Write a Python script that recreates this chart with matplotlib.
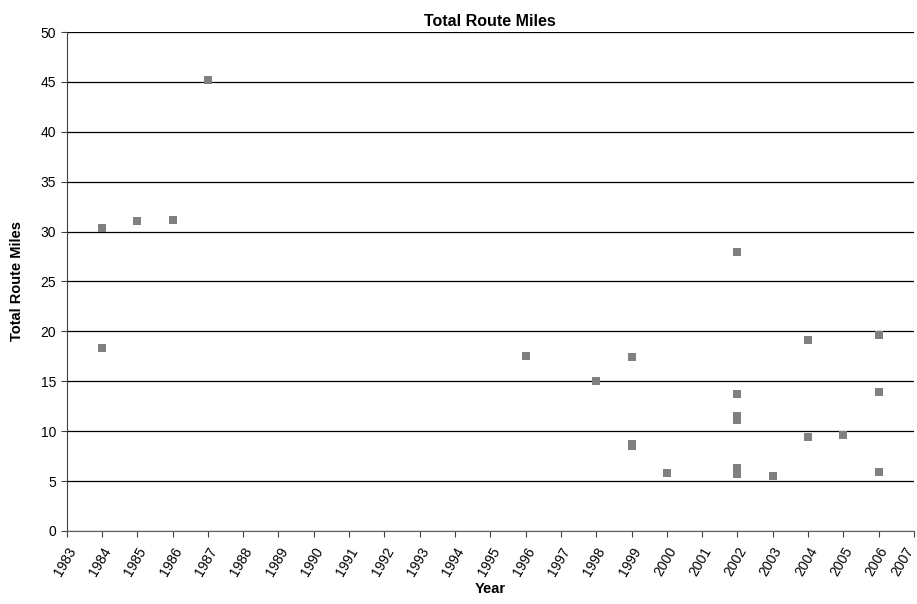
import numpy as np
import matplotlib.pyplot as plt
from matplotlib.transforms import ScaledTranslation

plt.rcParams['font.family'] = ['Liberation Sans', 'DejaVu Sans']

years = [1984, 1984, 1985, 1986, 1987, 1996, 1998, 1999, 1999, 1999,
         2000, 2002, 2002, 2002, 2002, 2002, 2002, 2003, 2004, 2004,
         2005, 2006, 2006, 2006]
miles = [30.4, 18.3, 31.1, 31.2, 45.2, 17.5, 15.0, 17.4, 8.7, 8.5,
         5.85, 28.0, 13.7, 11.5, 11.1, 6.3, 5.7, 5.5, 19.1, 9.4,
         9.6, 19.6, 13.9, 5.9]

fig = plt.figure(figsize=(9.17, 6.04), dpi=100)
ax = fig.add_axes([0.0727, 0.121, 0.924, 0.826])

ax.scatter(years, miles, marker='s', s=36, color='#808080', zorder=3, linewidths=0)

ax.set_xlim(1983, 2007)
ax.set_ylim(0, 50)
ax.set_xticks(np.arange(1983, 2008))
ax.set_yticks(np.arange(0, 51, 5))
ax.yaxis.grid(True, color='black', linewidth=0.9)
ax.set_axisbelow(True)

for s in ['top', 'right']:
    ax.spines[s].set_visible(False)
ax.spines['left'].set_color('#404040')
ax.spines['bottom'].set_color('#606060')

ax.tick_params(axis='both', direction='out', length=4, labelsize=10, color='#404040')
ax.tick_params(axis='x', pad=6)
labels = ax.get_xticklabels()
plt.setp(labels, rotation=60, ha='right', va='top', rotation_mode='anchor')
# pull the last year label in so it stays on the canvas
last = labels[-1]
last.set_transform(last.get_transform() + ScaledTranslation(-7 / 72, 0, fig.dpi_scale_trans))

ax.set_title('Total Route Miles', fontsize=11.5, fontweight='bold', pad=4)
ax.set_xlabel('Year', fontsize=10.5, fontweight='bold', labelpad=2)
ax.set_ylabel('Total Route Miles', fontsize=10.5, fontweight='bold', labelpad=12)

fig.savefig('out.png', dpi=100)
